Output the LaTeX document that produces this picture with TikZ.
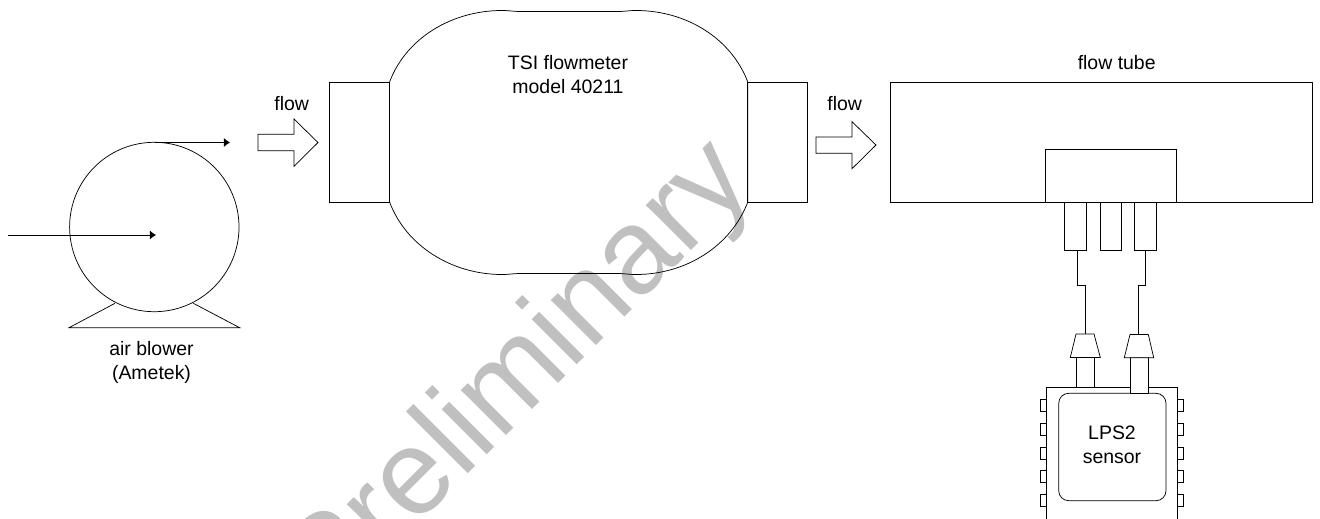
\documentclass[tikz,border=0pt]{standalone}
\usepackage{fontspec}
\setmainfont{Liberation Sans}
\usepackage{xcolor}
\usetikzlibrary{arrows.meta}
\definecolor{kmark}{HTML}{C0C0C0}

\begin{document}
\begin{tikzpicture}[x=0.75pt, y=-0.75pt,
  part/.style={draw=black, line width=0.55pt, fill=white},
  wire/.style={draw=black, line width=0.55pt},
  feed/.style={draw=black, line width=0.55pt, -{Latex[length=4.6pt, width=6.8pt]}},
  caption/.style={font=\fontsize{14.6}{18}\selectfont, align=center, anchor=base, text=black, inner sep=0pt}]
\useasboundingbox (0,0) rectangle (1320,518);
\clip (0,0) rectangle (1320,518);
\fill[white] (0,0) rectangle (1320,518);
\node[font=\fontsize{90.5}{100}\selectfont, text=kmark, anchor=base, rotate=45, inner sep=0pt] (stamp)
  at (543,399) {Preliminary};
% air blower
\coordinate (inlet) at (8,235);
\coordinate (inletend) at (156,235);
\coordinate (outlet) at (154.5,142.5);
\coordinate (outletend) at (230,142.5);
\draw[wire] (115,303.3) -- (69,327.7) -- (239.7,327.7) -- (193.3,303.3);
\draw[wire] (154.3,227) circle (84.7);
\draw[feed] (inlet) -- (inletend);
\draw[feed] (outlet) -- (outletend);
\node[caption] (blowertxt) at (151.5,379) {air blower\\(Ametek)};
% flowmeter
\draw[part] (329.5,82) rectangle (389.6,202);
\draw[part] (747.8,82) rectangle (807.8,202);
\draw[wire] (389.6,82) .. controls (406,38) and (452,10.5) .. (502,10.5)
  .. controls (510,10.5) and (513,11.5) .. (520,11.5) -- (618,11.5)
  .. controls (625,11.5) and (628,10.5) .. (636,10.5)
  .. controls (686,10.5) and (731,38) .. (747.8,82) -- (747.8,202)
  .. controls (731,246) and (686,274.5) .. (636,274.5)
  .. controls (628,274.5) and (625,273.5) .. (618,273.5) -- (520,273.5)
  .. controls (513,273.5) and (510,274.5) .. (502,274.5)
  .. controls (452,274.5) and (406,246) .. (389.6,202) -- cycle;
\node[caption] (metertxt) at (568,93) {TSI flowmeter\\model 40211};
% block arrows
\draw[wire] (258,134.3) -- (294,134.3) -- (294,119) -- (318,142.5) -- (294,166.3) -- (294,150.7) -- (258,150.7) -- cycle;
\node[caption] (flowa) at (291.7,110.7) {flow};
\draw[wire] (816,137) -- (852,137) -- (852,121.7) -- (876,145) -- (852,168.7) -- (852,153.3) -- (816,153.3) -- cycle;
\node[caption] (flowb) at (844.7,110.7) {flow};
% flow tube
\draw[part] (890,82.5) rectangle (1312,202.3);
\draw[part] (1045.3,149.3) rectangle (1176.7,202.3);
\node[caption] (tubetxt) at (1116.7,69.3) {flow tube};
\draw[part] (1064.7,202.3) rectangle (1086,250);
\draw[part] (1100.3,202.3) rectangle (1121.3,250);
\draw[part] (1134.7,202.3) rectangle (1156,250);
\draw[wire] (1077.3,250) -- (1077.3,285.7) -- (1085,285.7) -- (1085,334);
\draw[wire] (1145.3,250) -- (1145.3,285.7) -- (1138,285.7) -- (1138,334);
% LPS2 package
\foreach \y in {399.3,423,447,470.7,494.7} {
  \draw[part] (1040.3,\y) rectangle (1046.7,\y+12);
  \draw[part] (1177.7,\y) rectangle (1183.7,\y+12);
}
\draw[part] (1046.7,387.3) rectangle (1177.7,530);
\draw[part, rounded corners=7.5pt] (1058.7,393.3) rectangle (1166,500.7);
\draw[part] (1076.7,357.5) rectangle (1094.3,387.3);
\draw[part] (1130.3,357.7) rectangle (1148.3,393.3);
\draw[part] (1076,334) -- (1094,334) -- (1100.3,357.5) -- (1070.3,357.5) -- cycle;
\draw[part] (1130,334.5) -- (1148.3,334.5) -- (1153.7,357.7) -- (1124.3,357.7) -- cycle;
\node[caption] (sensortxt) at (1112,463.3) {LPS2\\sensor};
\end{tikzpicture}
\end{document}
